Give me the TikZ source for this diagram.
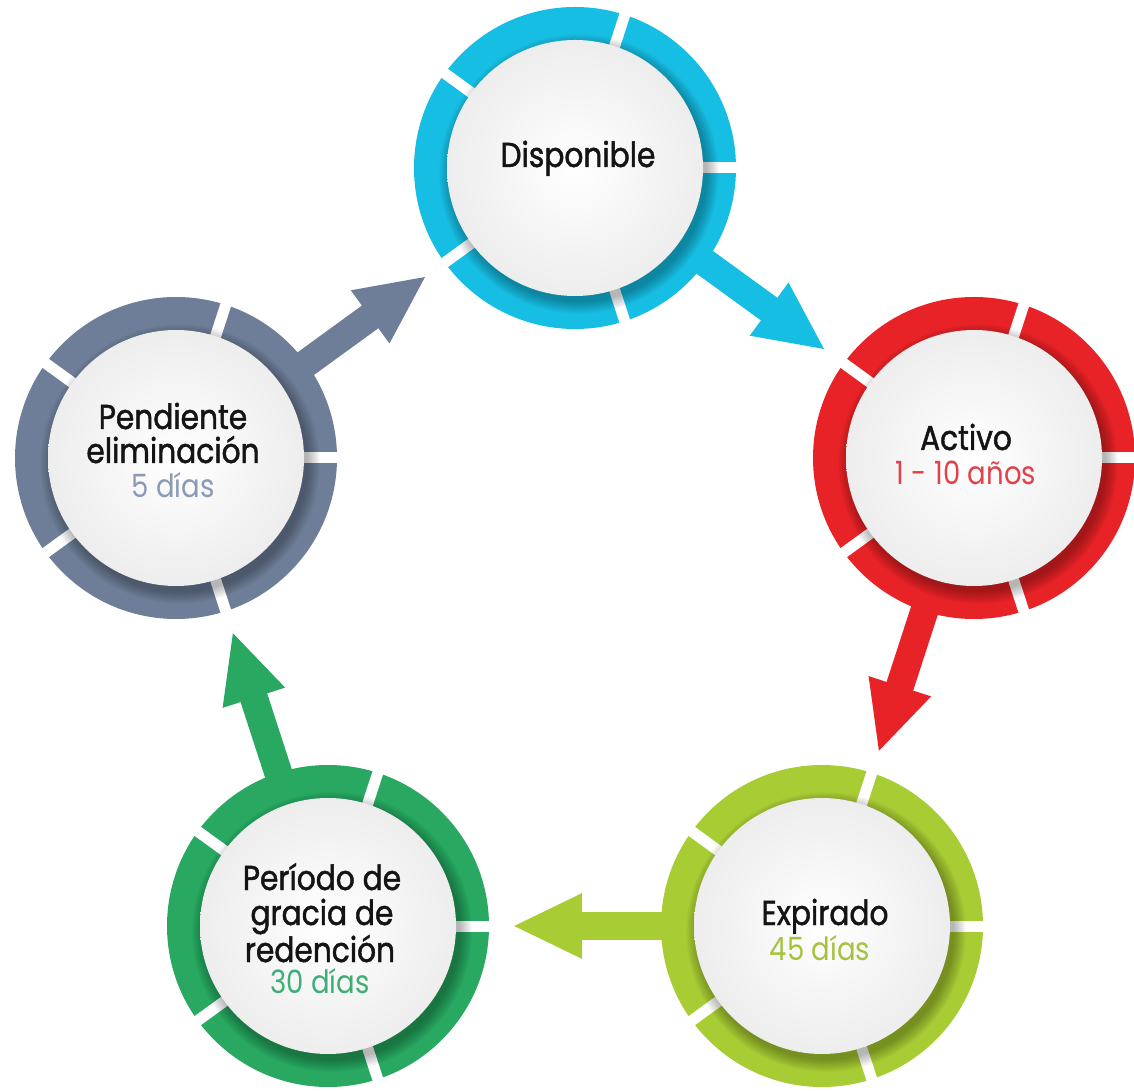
\documentclass[tikz,border=0pt]{standalone}
\usepackage{fontspec}
\setmainfont{Poppins}[FakeStretch=0.86,FakeBold=1.3]
\newfontfamily\subfont{Poppins}[FakeStretch=0.86]
\usetikzlibrary{arrows.meta,calc}
\definecolor{cdisp}{RGB}{23,190,228}
\definecolor{cact}{RGB}{232,35,40}
\definecolor{cexp}{RGB}{168,204,52}
\definecolor{cper}{RGB}{40,168,96}
\definecolor{cpend}{RGB}{110,126,152}
\definecolor{sact}{RGB}{226,64,75}
\definecolor{sexp}{RGB}{164,194,60}
\definecolor{sper}{RGB}{61,174,117}
\definecolor{spend}{RGB}{138,154,181}
\pgfdeclarelayer{bg}
\pgfsetlayers{bg,main}
\tikzset{
  disc/.style={circle, inner sep=0pt, minimum size=256pt, shade, inner color=white, outer color=black!7},
  title/.style={anchor=base, font=\fontsize{34.5}{35}\selectfont, text=black!92, inner sep=0pt},
  sub/.style={anchor=base, font=\subfont\fontsize{32}{35}\selectfont, inner sep=0pt},
  flow/.style={line width=28pt, -{Triangle[width=60pt,length=70pt]}},
}
\begin{document}
\begin{tikzpicture}[x=1pt,y=1pt]
\useasboundingbox (0,0) rectangle (1134,1090);
% discs
\node[disc] (disp) at (575,922) {};
\node[disc] (act)  at (974,632) {};
\node[disc] (exp)  at (822,164) {};
\node[disc] (per)  at (328,164) {};
\node[disc] (pend) at (176,632) {};
% texts
\node[title] (disp-t) at (578,923) {Disponible};
\node[title] (act-t)  at (966,640) {Activo};
\node[sub, text=sact] (act-s) at (966,605) {1 - 10 años};
\node[title] (exp-t)  at (825,165) {Expirado};
\node[sub, text=sexp] (exp-s) at (820,130) {45 días};
\node[title] (per-t1) at (322,200) {Período de};
\node[title] (per-t2) at (322,165) {gracia de};
\node[title] (per-t3) at (320,128) {redención};
\node[sub, text=sper] (per-s) at (320,97) {30 días};
\node[title] (pend-t1) at (173,661) {Pendiente};
\node[title] (pend-t2) at (173,627) {eliminación};
\node[sub, text=spend] (pend-s) at (173,592) {5 días};
\begin{pgfonlayer}{bg}
  \draw[flow,cdisp] ($(disp.center)!140pt!(act.center)$) -- ($(disp.center)!310pt!(act.center)$);
  \draw[flow,cact]  ($(act.center)!140pt!(exp.center)$) -- ($(act.center)!310pt!(exp.center)$);
  \draw[flow,cexp]  ($(exp.center)!140pt!(per.center)$) -- ($(exp.center)!310pt!(per.center)$);
  \draw[flow,cper]  ($(per.center)!140pt!(pend.center)$) -- ($(per.center)!310pt!(pend.center)$);
  \draw[flow,cpend] ($(pend.center)!140pt!(disp.center)$) -- ($(pend.center)!310pt!(disp.center)$);
  \foreach \n/\c in {disp/cdisp, act/cact, exp/cexp, per/cper, pend/cpend}{
    \draw[line width=34pt, \c] (\n.center) circle[radius=144pt];
    \foreach \a in {0,72,...,288}
      \draw[white, line width=11pt] (\n.center) ++(\a:115pt) -- ++(\a:52pt);
    \foreach \i in {0,...,9}
      \fill[black, opacity=0.03] ($(\n.center)+(4,-6)$) circle[radius=128pt+\i*1.3pt];
  }
\end{pgfonlayer}
\end{tikzpicture}
\end{document}
